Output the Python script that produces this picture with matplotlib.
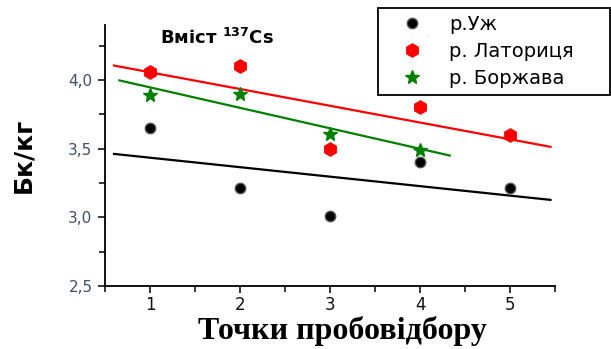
import numpy as np
import matplotlib
matplotlib.use('Agg')
import matplotlib.pyplot as plt
from matplotlib.ticker import MultipleLocator, FuncFormatter

plt.rcParams.update({'font.family': 'DejaVu Sans'})

# точки пробовідбору
x_uzh = [1, 2, 3, 4, 5]
y_uzh = [3.65, 3.21, 3.01, 3.40, 3.21]
x_lat = [1, 2, 3, 4, 5]
y_lat = [4.06, 4.10, 3.50, 3.80, 3.60]
x_bor = [1, 2, 3, 4]
y_bor = [3.89, 3.90, 3.61, 3.49]

labels = ['р.Уж', 'р. Латориця', 'р. Боржава']

fig = plt.figure(figsize=(6.11, 3.49), dpi=100)
ax = fig.add_axes([105/611, 1 - 286/349, 450/611, 261/349])

ax.plot(x_uzh, y_uzh, 'o', color='black', mec='#555555', ms=7.5, label=labels[0], zorder=3)
ax.plot(x_lat, y_lat, 'h', color='#ff0000', mec='#ff0000', ms=9.5, label=labels[1], zorder=3)
ax.plot(x_bor, y_bor, '*', color='#008000', mec='#008000', ms=10, label=labels[2], zorder=3)

# лінійні апроксимації
for xs, ys, col, x0, x1 in [(x_uzh, y_uzh, 'black', 0.6, 5.45),
                            (x_lat, y_lat, '#ff0000', 0.6, 5.45),
                            (x_bor, y_bor, '#008000', 0.66, 4.33)]:
    k, b = np.polyfit(xs, ys, 1)
    xx = np.array([x0, x1])
    ax.plot(xx, k * xx + b, color=col, lw=1.6, zorder=2)

ax.set_xlim(0.5, 5.5)
ax.set_ylim(2.5, 4.4)
ax.xaxis.set_major_locator(MultipleLocator(1))
ax.xaxis.set_minor_locator(MultipleLocator(0.5))
ax.yaxis.set_major_locator(MultipleLocator(0.5))
ax.yaxis.set_minor_locator(MultipleLocator(0.25))
ax.yaxis.set_major_formatter(FuncFormatter(lambda v, p: f'{v:.1f}'.replace('.', ',')))

for s in ['top', 'right']:
    ax.spines[s].set_visible(False)
for s in ['left', 'bottom']:
    ax.spines[s].set_linewidth(1.3)

ax.tick_params(which='both', direction='out', width=1.1)
ax.tick_params(which='major', length=5)
ax.tick_params(which='minor', length=4)
ax.tick_params(axis='y', labelsize=11, labelcolor='#40506a', pad=4)
ax.tick_params(axis='x', labelsize=12, labelcolor='#111111', pad=2)

ax.set_ylabel('Бк/кг', fontsize=18, fontweight='bold')
ax.yaxis.set_label_coords(-0.155, 0.5)
ax.set_xlabel('Точки пробовідбору', fontsize=23, fontweight='bold',
              family='Liberation Serif')
ax.xaxis.set_label_coords(0.527, -0.115)

ax.text(0.122, 0.927, 'Вміст $^{\\mathbf{137}}$Cs', transform=ax.transAxes,
        fontsize=13, fontweight='bold', va='baseline')

top = 1 - 8/349
leg = fig.legend(loc='upper left', bbox_to_anchor=(378/611, top - 0.01, 232/611, 0.01),
                 mode='expand', borderaxespad=0, fontsize=14, numpoints=1,
                 handlelength=2.8, handletextpad=0.5, borderpad=0.35,
                 labelspacing=0.42, fancybox=False, edgecolor='black', framealpha=1)
leg.get_frame().set_linewidth(1.3)

fig.savefig('out.png', dpi=100)
